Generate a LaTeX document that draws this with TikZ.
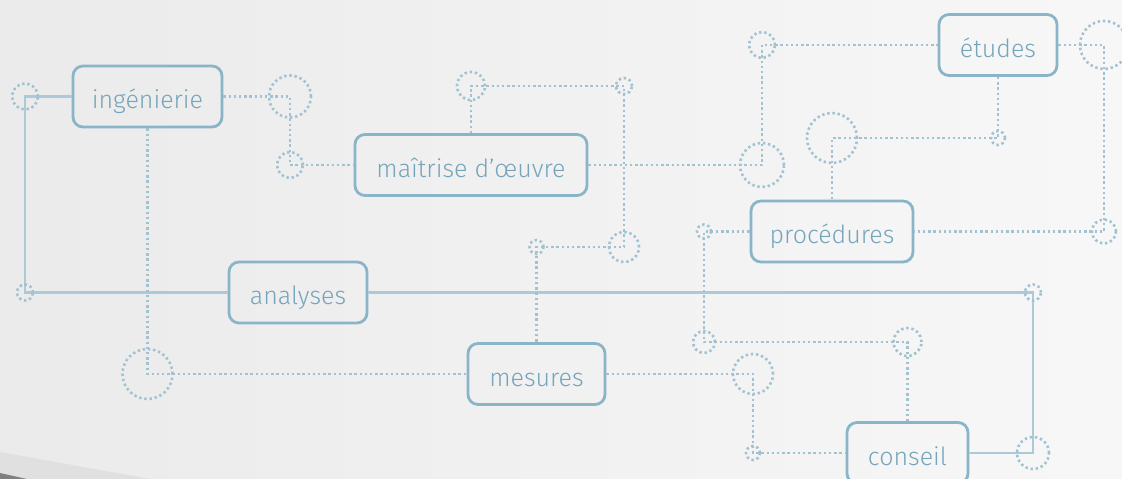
\documentclass[tikz,border=0pt]{standalone}
\usepackage{fontspec}
\setmainfont{Fira Sans Light}
\usepackage{tikz}
\definecolor{boxblue}{HTML}{8AB4C8}
\definecolor{textblue}{HTML}{76A5BB}
\definecolor{wireblue}{HTML}{ABC9D6}
\definecolor{dotblue}{HTML}{A2C2D2}
\tikzset{
topic/.style={draw=boxblue,line width=2.8pt,rounded corners=10pt,text=textblue,minimum height=61pt,inner sep=0pt,text height=24pt,text depth=0pt,font=\fontsize{25}{28}\selectfont},
wire/.style={draw=wireblue,line width=2.4pt},
dots/.style={draw=dotblue,line width=2.6pt,dash pattern=on 2.4pt off 2.8pt}
}
\begin{document}
\begin{tikzpicture}[x=1pt,y=-1pt]
\useasboundingbox (0,0) rectangle (1122,479);
\fill[left color=black!8,right color=black!3] (0,0) rectangle (1122,479);
\fill[black!12] (0,452)--(150,479)--(0,479)--cycle;
\fill[black!50] (0,473)--(27,479)--(0,479)--cycle;
\node[topic,minimum width=149pt] (ING)at(147.5,96.5){ingénierie};
\node[topic,minimum width=232pt] (MOE)at(471,165){maîtrise d’œuvre};
\node[topic,minimum width=118pt] (ETU)at(998,45){études};
\node[topic,minimum width=162pt] (PRO)at(832,231.5){procédures};
\node[topic,minimum width=138pt] (ANA)at(298,292.5){analyses};
\node[topic,minimum width=137pt] (MES)at(536.5,374){mesures};
\node[topic,minimum width=121pt] (CON)at(907.5,453){conseil};
\coordinate (a1)at(25,96.5);
\coordinate (a2)at(25,292.5);
\coordinate (a3)at(1033,292.5);
\coordinate (a4)at(1033,453);
\coordinate (b1)at(290,96.5);
\coordinate (b2)at(290,165);
\coordinate (b3)at(147.5,374);
\coordinate (c1)at(471,86);
\coordinate (c2)at(624,86);
\coordinate (c3)at(624,247);
\coordinate (c4)at(536.5,247);
\coordinate (d1)at(762,165);
\coordinate (d2)at(762,45);
\coordinate (e1)at(1104,45);
\coordinate (e2)at(1104,231.5);
\coordinate (f1)at(998,138);
\coordinate (f2)at(832,138);
\coordinate (g1)at(704,231.5);
\coordinate (g2)at(704,342);
\coordinate (g3)at(907.5,342);
\coordinate (h1)at(753,374);
\coordinate (h2)at(753,453);
\draw [wire] (ING.west)--(a1)--(a2)--(ANA.west);
\draw [wire] (ANA.east)--(a3)--(a4)--(CON.east);
\draw [dots] (ING.east)--(b1)--(b2)--(MOE.west);
\draw [dots] (ING.south)--(b3)--(MES.west);
\draw [dots] (MOE.north)--(c1)--(c2)--(c3)--(c4)--(MES.north);
\draw [dots] (MOE.east)--(d1)--(d2)--(ETU.west);
\draw [dots] (ETU.east)--(e1)--(e2)--(PRO.east);
\draw [dots] (ETU.south)--(f1)--(f2)--(PRO.north);
\draw [dots] (PRO.west)--(g1)--(g2)--(g3)--(CON.north);
\draw [dots] (MES.east)--(h1)--(h2)--(CON.west);
\foreach \p/\r in {a1/13,a2/8,a3/8,a4/16,b1/21,b2/13,b3/25,c1/14,c2/8,c3/15,c4/7,d1/22,d2/13,e1/24,e2/12,f1/7,f2/25,g1/7,g2/11,g3/14,h1/20,h2/7}
\draw [dots] (\p) circle[radius=\r pt];
\end{tikzpicture}
\end{document}
